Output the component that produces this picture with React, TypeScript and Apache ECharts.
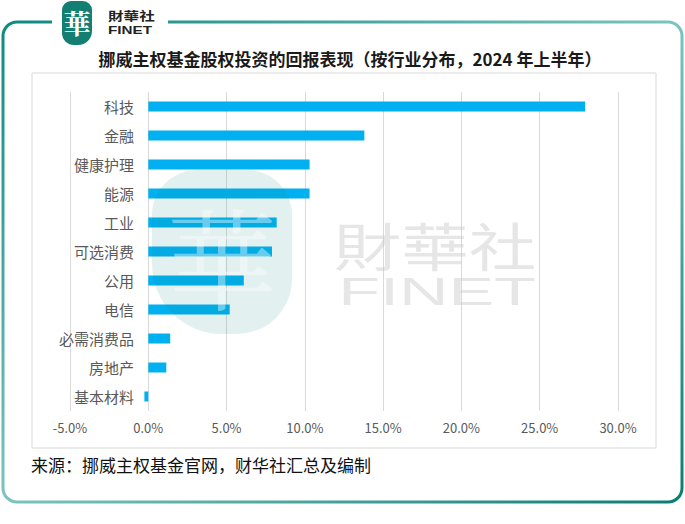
import React, { useEffect, useRef } from "react";
import * as echarts from "echarts";

const categories = ["科技", "金融", "健康护理", "能源", "工业", "可选消费", "公用", "电信", "必需消费品", "房地产", "基本材料"];
const returns = [27.9, 13.8, 10.3, 10.3, 8.2, 7.9, 6.1, 5.2, 1.4, 1.15, -0.25];
const titleText = "挪威主权基金股权投资的回报表现（按行业分布，2024 年上半年）";
const sourceText = "来源：挪威主权基金官网，财华社汇总及编制";

export default function App() {
  const ref = useRef<HTMLDivElement>(null);
  useEffect(() => {
    if (!ref.current) return;
    const chart = echarts.init(ref.current, null, { renderer: "svg" });
    const font = "'Noto Sans CJK SC', 'Noto Sans', sans-serif";
    chart.setOption({
      animation: false,
      backgroundColor: "#ffffff",
      textStyle: { fontFamily: font },
      grid: { left: 70, right: 67, top: 92, height: 319, outerBoundsMode: "none", containLabel: false },
      xAxis: {
        type: "value",
        min: -5,
        max: 30,
        interval: 5,
        axisLine: { show: false },
        axisTick: { show: false },
        splitLine: { lineStyle: { color: "#d9d9d9", width: 1 } },
        axisLabel: { color: "#595959", fontSize: 13, margin: 10, formatter: (v: number) => v.toFixed(1) + "%" },
      },
      yAxis: {
        type: "category",
        data: categories,
        inverse: true,
        offset: -77,
        axisLine: { show: false, onZero: false },
        axisTick: { show: false },
        axisLabel: { color: "#595959", fontSize: 15, margin: 13 },
      },
      series: [
        {
          type: "bar",
          data: returns,
          barWidth: 10,
          itemStyle: { color: "#00B0F0" },
        },
      ],
      graphic: [
        {
          type: "rect",
          z: -10,
          silent: true,
          shape: { x: 32, y: 73, width: 624, height: 375 },
          style: { fill: "none", stroke: "#d9d9d9", lineWidth: 1 },
        },
        {
          type: "rect",
          z: 10,
          silent: true,
          shape: { x: 3, y: 22, width: 679, height: 480, r: 14 },
          style: {
            fill: "none",
            lineWidth: 3,
            stroke: new echarts.graphic.LinearGradient(0, 0, 1, 1, [
              { offset: 0, color: "#0e8a80" },
              { offset: 0.5, color: "#7cc4bf" },
              { offset: 1, color: "#0b7d72" },
            ]),
          },
        },
        {
          type: "rect",
          z: 11,
          silent: true,
          shape: { x: 52, y: 16, width: 116, height: 12 },
          style: { fill: "#ffffff" },
        },
        {
          type: "rect",
          z: 12,
          silent: true,
          shape: { x: 62, y: 1, width: 30, height: 44, r: [9, 9, 14, 12] },
          style: { fill: "#137f73" },
        },
        {
          type: "text",
          z: 13,
          silent: true,
          x: 77,
          y: 22,
          style: { text: "華", fill: "#ffffff", font: "bold 27px 'Noto Serif CJK SC', serif", align: "center", verticalAlign: "middle" },
        },
        {
          type: "text",
          z: 13,
          silent: true,
          x: 108,
          y: 16,
          scaleX: 1.3,
          style: { text: "財華社", fill: "#222222", font: "bold 12px 'Noto Sans CJK TC', sans-serif", align: "left", verticalAlign: "middle" },
        },
        {
          type: "text",
          z: 13,
          silent: true,
          x: 108,
          y: 30,
          scaleX: 1.45,
          style: { text: "FINET", fill: "#222222", font: "bold 10.5px 'Liberation Sans', Arial, sans-serif", align: "left", verticalAlign: "middle" },
        },
        {
          type: "text",
          z: 13,
          silent: true,
          x: 350,
          y: 58,
          style: { text: titleText, fill: "#1a1a1a", font: "bold 17px 'Noto Sans CJK SC', sans-serif", align: "center", verticalAlign: "middle" },
        },
        {
          type: "text",
          z: 13,
          silent: true,
          x: 31,
          y: 464,
          style: { text: sourceText, fill: "#111111", font: "17px 'Noto Sans CJK SC', sans-serif", align: "left", verticalAlign: "middle" },
        },
        // watermark
        {
          type: "rect",
          z: 20,
          silent: true,
          shape: { x: 152, y: 170, width: 140, height: 164, r: [45, 45, 55, 70] },
          style: { fill: "rgba(20,140,130,0.12)" },
        },
        {
          type: "text",
          z: 21,
          silent: true,
          x: 222,
          y: 254,
          style: { text: "華", fill: "rgba(255,255,255,0.4)", font: "110px 'Noto Serif CJK SC', serif", align: "center", verticalAlign: "middle" },
        },
        {
          type: "text",
          z: 21,
          silent: true,
          x: 435,
          y: 244,
          scaleX: 1.3,
          style: { text: "財華社", fill: "rgba(200,200,200,0.45)", font: "52px 'Noto Sans CJK TC', sans-serif", align: "center", verticalAlign: "middle" },
        },
        {
          type: "text",
          z: 21,
          silent: true,
          x: 437,
          y: 292,
          scaleX: 1.8,
          style: { text: "FINET", fill: "rgba(200,200,200,0.45)", font: "38px 'Liberation Sans', Arial, sans-serif", align: "center", verticalAlign: "middle" },
        },
      ],
    });
    return () => chart.dispose();
  }, []);
  return <div ref={ref} style={{ position: "fixed", left: 0, top: 0, width: 685, height: 524 }} />;
}
